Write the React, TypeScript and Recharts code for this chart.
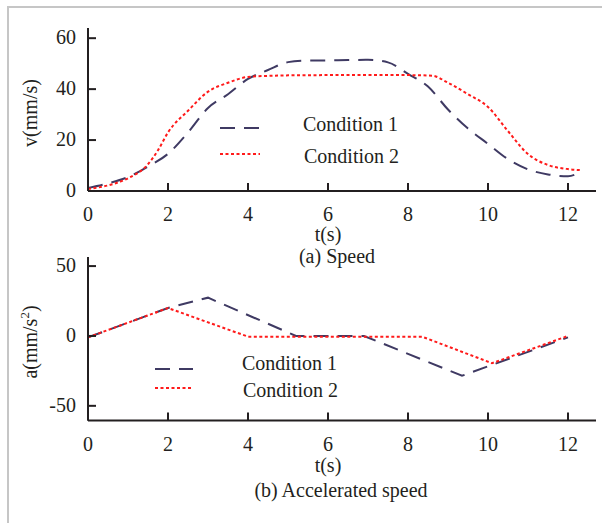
import React from 'react';
import { LineChart, Line, XAxis, YAxis, Legend } from 'recharts';

const timeTicks = [0, 2, 4, 6, 8, 10, 12];
const speedTicks = [0, 20, 40, 60];
const accelTicks = [-50, 0, 50];
const seriesNames = ['Condition 1', 'Condition 2'];

// (a) speed, condition 1
const speedTime1 = [0, 0.5, 1, 1.5, 2, 2.5, 3, 3.5, 4, 4.5, 5, 5.5, 6, 6.5, 7, 7.5, 8, 8.5, 9, 9.5, 10, 10.5, 11, 11.5, 12, 12.35];
const speedValue1 = [1.2, 3, 5.5, 9.6, 14.6, 23, 32.6, 38, 44, 47.5, 50.6, 51.2, 51.3, 51.4, 51.5, 50.5, 46, 41, 32, 24.5, 18.5, 12.5, 8.5, 6.5, 5.8, 7.8];
// (a) speed, condition 2
const speedTime2 = [0, 0.5, 1, 1.5, 1.75, 2, 2.5, 3, 3.5, 4, 4.5, 5, 6, 7, 8, 8.6, 9, 9.5, 10, 10.5, 11, 11.5, 12, 12.3];
const speedValue2 = [0.8, 2.2, 5, 10.5, 16, 23, 31.5, 39, 42.5, 44.8, 45.2, 45.4, 45.5, 45.5, 45.5, 45.3, 42.5, 38, 33, 23.5, 14.5, 10.2, 8.6, 8.2];

// (b) accelerated speed
const accelTime1 = [0, 2, 3, 5.2, 6.9, 9.35, 12];
const accelValue1 = [-1, 20, 27.4, 0, 0, -28.5, -1];
const accelTime2 = [0, 2, 4, 8.35, 10.1, 12];
const accelValue2 = [-1, 20, -0.5, -0.5, -19.5, 0];

const zip = (ts: number[], vs: number[]) => ts.map((t, i) => ({ t, v: vs[i] }));

const speed1 = zip(speedTime1, speedValue1);
const speed2 = zip(speedTime2, speedValue2);
const accel1 = zip(accelTime1, accelValue1);
const accel2 = zip(accelTime2, accelValue2);

const FONT = "'Liberation Serif', 'Times New Roman', serif";
const AXIS = '#231f20';
const TEXT = '#231f20';
const DASH_COLOR = '#3f3a63';
const DOT_COLOR = '#ff1a1a';

const XTick = ({ x, y, payload }: any) => (
  <g>
    <line x1={x} y1={y} x2={x} y2={y - 8} stroke={AXIS} strokeWidth={2} />
    <text x={x} y={y + 30} textAnchor="middle" fontSize={20} fill={TEXT} fontFamily={FONT}>
      {payload.value}
    </text>
  </g>
);

const YTick = ({ x, y, payload }: any) => (
  <g>
    <line x1={x} y1={y} x2={x + 8} y2={y} stroke={AXIS} strokeWidth={2} />
    <text x={x - 12} y={y + 6} textAnchor="end" fontSize={20} fill={TEXT} fontFamily={FONT}>
      {payload.value}
    </text>
  </g>
);

const XTitles = ({ t, caption, tY, capY, capX }: any) => (
  <g fontFamily={FONT} fontSize={20} fill={TEXT}>
    <text x={328} y={tY} textAnchor="middle">{t}</text>
    <text x={capX} y={capY} textAnchor="middle">{caption}</text>
  </g>
);

const SpeedYTitle = () => (
  <text x={37} y={113} transform="rotate(-90, 37, 113)" textAnchor="middle" fontSize={20} fill={TEXT} fontFamily={FONT}>
    v(mm/s)
  </text>
);

const AccelYTitle = () => (
  <text x={37} y={342} transform="rotate(-90, 37, 342)" textAnchor="middle" fontSize={20} fill={TEXT} fontFamily={FONT}>
    a(mm/s<tspan dy={-8} fontSize={13}>2</tspan><tspan dy={8}>)</tspan>
  </text>
);

const LegendBox = ({ lineW, textX, y1, y2, t1, t2 }: any) => (
  <svg width={200} height={60} style={{ overflow: 'visible' }}>
    <line x1={10} y1={y1} x2={10 + lineW} y2={y1} stroke={DASH_COLOR} strokeWidth={2} strokeDasharray="15 9" />
    <line x1={10} y1={y2} x2={10 + lineW} y2={y2} stroke={DOT_COLOR} strokeWidth={2} strokeDasharray="3 2.5" />
    <text x={textX} y={t1} fontSize={20} fill={TEXT} fontFamily={FONT}>{seriesNames[0]}</text>
    <text x={textX + 1} y={t2} fontSize={20} fill={TEXT} fontFamily={FONT}>{seriesNames[1]}</text>
  </svg>
);

const App = () => {
  return (
    <div style={{ position: 'fixed', left: 0, top: 0, width: 602, height: 523, background: '#fff', overflow: 'hidden' }}>
      <div
        style={{
          position: 'absolute', left: 7, top: 6, width: 620, height: 540,
          borderLeft: '2px solid #c6c6c6', borderTop: '2px solid #c6c6c6',
        }}
      />

      {/* (a) Speed */}
      <div style={{ position: 'absolute', left: 0, top: 0 }}>
        <LineChart width={602} height={523} margin={{ top: 28, right: 6, left: 28, bottom: 302 }}>
          <XAxis
            dataKey="t"
            type="number"
            domain={[0, 12.7]}
            ticks={timeTicks}
            interval={0}
            height={30}
            tickSize={0}
            tickMargin={0}
            tickLine={false}
            tick={<XTick />}
            axisLine={{ stroke: AXIS, strokeWidth: 2 }}
            allowDataOverflow
            label={<XTitles t="t(s)" caption="(a) Speed" tY={241} capY={263} capX={337} />}
          />
          <YAxis
            type="number"
            domain={[0, 64]}
            ticks={speedTicks}
            interval={0}
            width={60}
            tickSize={0}
            tickMargin={0}
            tickLine={false}
            tick={<YTick />}
            axisLine={{ stroke: AXIS, strokeWidth: 2 }}
            allowDataOverflow
            label={<SpeedYTitle />}
          />
          <Legend
            layout="vertical"
            align="center"
            verticalAlign="middle"
            wrapperStyle={{ left: 210, top: 110, width: 200, height: 60 }}
            content={() => <LegendBox lineW={40} textX={93} y1={18} y2={44} t1={21} t2={53} />}
          />
          <Line data={speed1} dataKey="v" name={seriesNames[0]} type="monotone" stroke={DASH_COLOR} strokeWidth={2} strokeDasharray="15 9" dot={false} isAnimationActive={false} />
          <Line data={speed2} dataKey="v" name={seriesNames[1]} type="monotone" stroke={DOT_COLOR} strokeWidth={2} strokeDasharray="3 2.5" dot={false} isAnimationActive={false} />
        </LineChart>
      </div>

      {/* (b) Accelerated speed */}
      <div style={{ position: 'absolute', left: 0, top: 0 }}>
        <LineChart width={602} height={523} margin={{ top: 257, right: 6, left: 28, bottom: 72.5 }}>
          <XAxis
            dataKey="t"
            type="number"
            domain={[0, 12.7]}
            ticks={timeTicks}
            interval={0}
            height={30}
            tickSize={0}
            tickMargin={0}
            tickLine={false}
            tick={<XTick />}
            axisLine={{ stroke: AXIS, strokeWidth: 2 }}
            allowDataOverflow
            label={<XTitles t="t(s)" caption="(b) Accelerated speed" tY={472} capY={497} capX={341} />}
          />
          <YAxis
            type="number"
            domain={[-60.5, 56.5]}
            ticks={accelTicks}
            interval={0}
            width={60}
            tickSize={0}
            tickMargin={0}
            tickLine={false}
            tick={<YTick />}
            axisLine={{ stroke: AXIS, strokeWidth: 2 }}
            allowDataOverflow
            label={<AccelYTitle />}
          />
          <Legend
            layout="vertical"
            align="center"
            verticalAlign="middle"
            wrapperStyle={{ left: 145, top: 350, width: 200, height: 60 }}
            content={() => <LegendBox lineW={38} textX={97} y1={19} y2={38} t1={20} t2={47} />}
          />
          <Line data={accel1} dataKey="v" name={seriesNames[0]} type="linear" stroke={DASH_COLOR} strokeWidth={2} strokeDasharray="15 9" dot={false} isAnimationActive={false} />
          <Line data={accel2} dataKey="v" name={seriesNames[1]} type="linear" stroke={DOT_COLOR} strokeWidth={2} strokeDasharray="3 2.5" dot={false} isAnimationActive={false} />
        </LineChart>
      </div>
    </div>
  );
};

export default App;
